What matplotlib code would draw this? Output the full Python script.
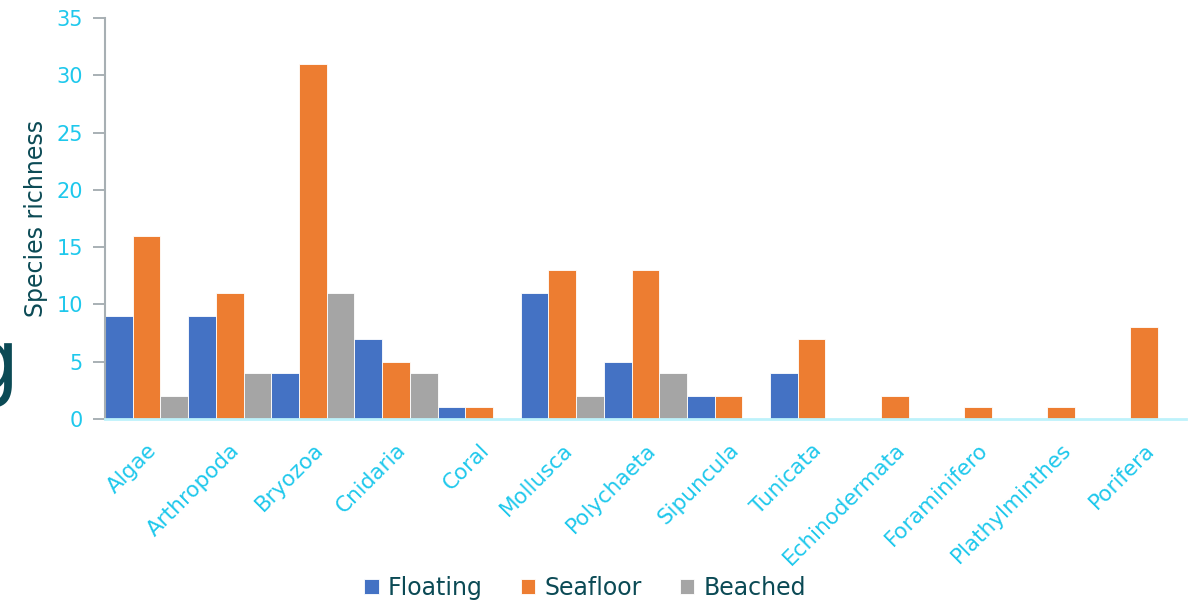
import numpy as np
import matplotlib.pyplot as plt

# Species richness per taxon, by litter type
taxa = ['Algae', 'Arthropoda', 'Bryozoa', 'Cnidaria', 'Coral', 'Mollusca',
        'Polychaeta', 'Sipuncula', 'Tunicata', 'Echinodermata', 'Foraminifero',
        'Plathylminthes', 'Porifera']
floating = [9, 9, 4, 7, 1, 11, 5, 2, 4, 0, 0, 0, 0]
seafloor = [16, 11, 31, 5, 1, 13, 13, 2, 7, 2, 1, 1, 8]
beached = [2, 4, 11, 4, 0, 2, 4, 0, 0, 0, 0, 0, 0]

plt.rcParams['font.family'] = ['DejaVu Sans']
cyan = '#1EC8EC'
teal = '#0B4A55'

fig = plt.figure(figsize=(11.94, 6.08), dpi=100)
ax = fig.add_axes([0.088, 0.311, 0.905, 0.659])

x = np.arange(len(taxa))
w = 1 / 3
ax.bar(x - w, floating, w, color='#4472C4', edgecolor='white', linewidth=0.6, label='Floating')
ax.bar(x, seafloor, w, color='#ED7D31', edgecolor='white', linewidth=0.6, label='Seafloor')
ax.bar(x + w, beached, w, color='#A5A5A5', edgecolor='white', linewidth=0.6, label='Beached')

ax.set_xlim(-0.5, len(taxa) - 0.5)
ax.set_ylim(0, 35)
ax.set_yticks(range(0, 36, 5))
ax.set_xticks(x)
ax.set_xticklabels(taxa, rotation=45, ha='right', rotation_mode='anchor')

ax.tick_params(axis='y', colors='#9AA3A8', labelcolor=cyan, labelsize=15, length=9, width=1.2, pad=7)
ax.tick_params(axis='x', length=0, labelcolor=cyan, labelsize=15.5, pad=15)

for s in ['top', 'right']:
    ax.spines[s].set_visible(False)
ax.spines['left'].set_color('#A7AFB3')
ax.spines['left'].set_linewidth(1.5)
ax.spines['bottom'].set_color('#BDF2FB')
ax.spines['bottom'].set_linewidth(2)

ax.set_ylabel('Species richness', color=teal, fontsize=17, labelpad=6)

leg = fig.legend(loc='lower center', bbox_to_anchor=(0.49, -0.022), ncol=3, frameon=False,
                 fontsize=17, handlelength=0.6, handleheight=0.6, handletextpad=0.4,
                 columnspacing=1.6)
for t in leg.get_texts():
    t.set_color(teal)

# cut-off letter from the slide title at the left edge
fig.text(19 / 1194, 1 - 390 / 608, 'g', color=teal, fontsize=62, ha='right', va='baseline')

fig.savefig('out.png', dpi=100)
